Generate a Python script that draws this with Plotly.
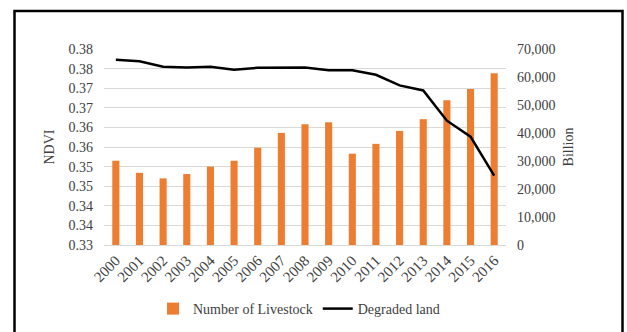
import plotly.graph_objects as go

years = [str(y) for y in range(2000, 2017)]
livestock = [0.3515, 0.3484, 0.3470, 0.3481, 0.3500, 0.3515, 0.3548, 0.3586, 0.3608,
             0.3613, 0.3533, 0.3558, 0.3591, 0.3621, 0.3669, 0.3698, 0.3738]
degraded = [66200, 65600, 63700, 63400, 63700, 62600, 63300, 63300, 63400,
            62400, 62400, 60800, 57000, 55200, 44400, 38700, 24800]
left_ticks = [0.33, 0.335, 0.34, 0.345, 0.35, 0.355, 0.36, 0.365, 0.37, 0.375, 0.38]
left_labels = ["0.33", "0.34", "0.34", "0.35", "0.35", "0.36", "0.36", "0.37", "0.37", "0.38", "0.38"]

FONT = "Liberation Serif, Times New Roman, serif"
W, H = 627, 332
L, R, T, B = 104, 121, 49, 87
pw, ph = W - L - R, H - T - B

def px(x):
    return (x - L) / pw

def py(y):
    return (H - B - y) / ph

fig = go.Figure()
fig.add_trace(go.Bar(x=years, y=[v - 0.33 for v in livestock], base=0.33,
                     name="Number of Livestock", marker_color="#ED7D31",
                     marker_line_width=0, yaxis="y"))
fig.add_trace(go.Scatter(x=years, y=degraded, name="Degraded land", mode="lines",
                         line=dict(color="black", width=2.5), yaxis="y2"))

fig.update_layout(
    width=W, height=H,
    margin=dict(l=L, r=R, t=T, b=B, autoexpand=False),
    paper_bgcolor="white", plot_bgcolor="white",
    font=dict(family=FONT, size=14, color="#404040"),
    bargap=0.70,
    showlegend=True,
    legend=dict(orientation="h", x=px(299), xanchor="center", y=py(309), yanchor="middle",
                font=dict(family=FONT, size=14, color="#404040"), traceorder="normal",
                itemwidth=30),
    xaxis=dict(type="category", tickangle=-45, showgrid=False, showline=True, automargin=False,
               linecolor="#d9d9d9", linewidth=1, ticks="", tickfont=dict(family=FONT, size=15)),
    yaxis=dict(range=[0.33, 0.38], tickvals=left_ticks, ticktext=left_labels, automargin=False,
               showgrid=True, gridcolor="#d9d9d9", gridwidth=1, zeroline=False,
               ticks="", ticklabelstandoff=10, tickfont=dict(family=FONT, size=14),
               title=dict(text="NDVI", font=dict(family=FONT, size=14), standoff=10)),
    yaxis2=dict(range=[0, 70000], dtick=10000, tickformat=",", overlaying="y", side="right",
                showgrid=False, zeroline=False, ticks="", ticklabelstandoff=10, automargin=False,
                tickfont=dict(family=FONT, size=14),
                title=dict(text="Billion", font=dict(family=FONT, size=14), standoff=8)),
)

fig.add_shape(type="path", xref="paper", yref="paper",
              path=f"M {px(14.5)} {py(345)} L {px(14.5)} {py(11)} L {px(622.5)} {py(11)} L {px(622.5)} {py(345)}",
              line=dict(color="black", width=2.5))

fig.write_html("out.html")
